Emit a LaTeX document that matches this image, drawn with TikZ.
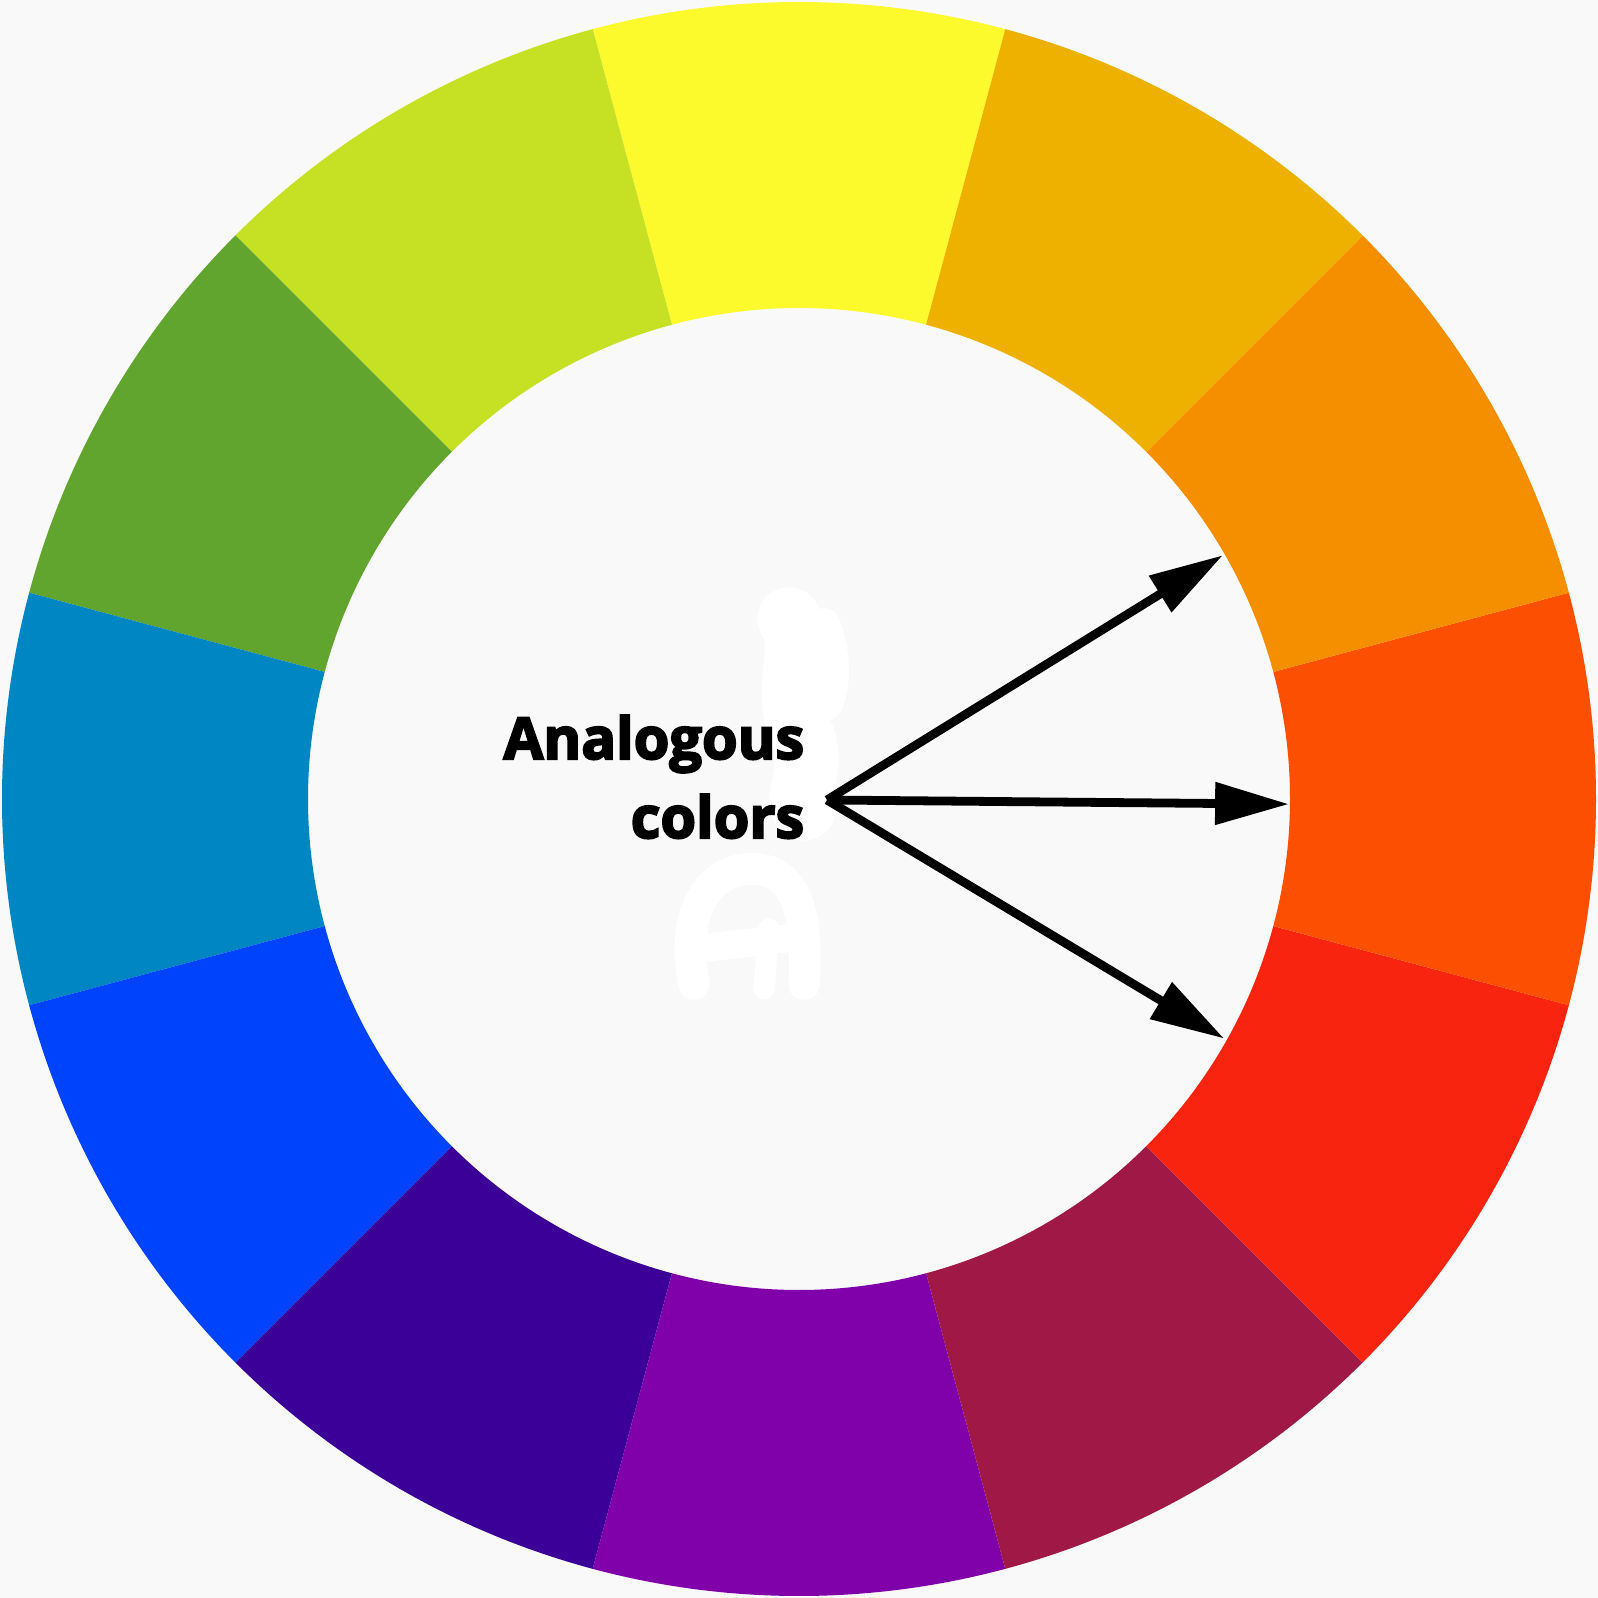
\documentclass[tikz,border=0pt]{standalone}
\usepackage{fontspec}
\setmainfont{Open Sans}[BoldFeatures={FakeBold=3.5}]
\usepackage{tikz}
\usepackage{xcolor}
\usetikzlibrary{arrows.meta}
\definecolor{paper}{HTML}{F9F9F9}
\definecolor{huey}{HTML}{FCF92C}
\definecolor{hueyg}{HTML}{C6E124}
\definecolor{hueg}{HTML}{62A52E}
\definecolor{huebg}{HTML}{0087C3}
\definecolor{hueb}{HTML}{0043FC}
\definecolor{huebv}{HTML}{3A0098}
\definecolor{huev}{HTML}{8000AA}
\definecolor{huerv}{HTML}{A01846}
\definecolor{huer}{HTML}{F9240F}
\definecolor{hueor}{HTML}{FD4F02}
\definecolor{hueo}{HTML}{F58F00}
\definecolor{hueyo}{HTML}{EFB100}
\tikzstyle{pointer} = [
    draw=black,
    line width=2.5pt,
    -{Triangle[length=21pt,width=11.6pt]}
    ]
\tikzstyle{label} = [
    font=\bfseries\fontsize{16.4}{22.5}\selectfont,
    text=black,
    inner sep=0pt,
    anchor=base east
    ]
\tikzstyle{smudge} = [
    draw=white,
    line cap=round,
    line join=round
    ]

\begin{document}
\begin{tikzpicture}[x=0.01cm,y=0.01cm]
\useasboundingbox (-799,-799) rectangle (799,799);
\fill[paper] (-799,-799) rectangle (799,799);
% wheel, twelve hues
\fill[huey]  (75:491)  arc[start angle=75,  end angle=105, radius=491] -- (105:797) arc[start angle=105, end angle=75,  radius=797] -- cycle;
\fill[hueyg] (105:491) arc[start angle=105, end angle=135, radius=491] -- (135:797) arc[start angle=135, end angle=105, radius=797] -- cycle;
\fill[hueg]  (135:491) arc[start angle=135, end angle=165, radius=491] -- (165:797) arc[start angle=165, end angle=135, radius=797] -- cycle;
\fill[huebg] (165:491) arc[start angle=165, end angle=195, radius=491] -- (195:797) arc[start angle=195, end angle=165, radius=797] -- cycle;
\fill[hueb]  (195:491) arc[start angle=195, end angle=225, radius=491] -- (225:797) arc[start angle=225, end angle=195, radius=797] -- cycle;
\fill[huebv] (225:491) arc[start angle=225, end angle=255, radius=491] -- (255:797) arc[start angle=255, end angle=225, radius=797] -- cycle;
\fill[huev]  (255:491) arc[start angle=255, end angle=285, radius=491] -- (285:797) arc[start angle=285, end angle=255, radius=797] -- cycle;
\fill[huerv] (285:491) arc[start angle=285, end angle=315, radius=491] -- (315:797) arc[start angle=315, end angle=285, radius=797] -- cycle;
\fill[huer]  (315:491) arc[start angle=315, end angle=345, radius=491] -- (345:797) arc[start angle=345, end angle=315, radius=797] -- cycle;
\fill[hueor] (-15:491) arc[start angle=-15, end angle=15,  radius=491] -- (15:797)  arc[start angle=15,  end angle=-15, radius=797] -- cycle;
\fill[hueo]  (15:491)  arc[start angle=15,  end angle=45,  radius=491] -- (45:797)  arc[start angle=45,  end angle=15,  radius=797] -- cycle;
\fill[hueyo] (45:491)  arc[start angle=45,  end angle=75,  radius=491] -- (75:797)  arc[start angle=75,  end angle=45,  radius=797] -- cycle;
% erased smudge
\draw[smudge, line width=18pt] (-10,180) .. controls (10,150) and (-20,110) .. (5,60) .. controls (15,30) and (-5,0) .. (5,-10);
\draw[smudge, line width=9pt] (25,175) .. controls (35,150) and (38,120) .. (28,95);
\draw[smudge, line width=9pt] (-105,-185) .. controls (-118,-120) and (-95,-72) .. (-50,-70) .. controls (-5,-68) and (10,-110) .. (5,-185);
\draw[smudge, line width=8pt] (-105,-150) -- (0,-138);
\draw[smudge, line width=6pt] (-35,-190) -- (-30,-130);

\node[label] (ana) at (6,40) {Analogous};
\node[label] (col) at (6,-39) {colors};
\coordinate (src) at (28,-1);
\coordinate (up) at (29.9:489);
\coordinate (mid) at (-0.6:490);
\coordinate (down) at (-29.4:488);
\draw[pointer] (src) -- (up);
\draw[pointer] (src) -- (mid);
\draw[pointer] (src) -- (down);
\end{tikzpicture}
\end{document}
